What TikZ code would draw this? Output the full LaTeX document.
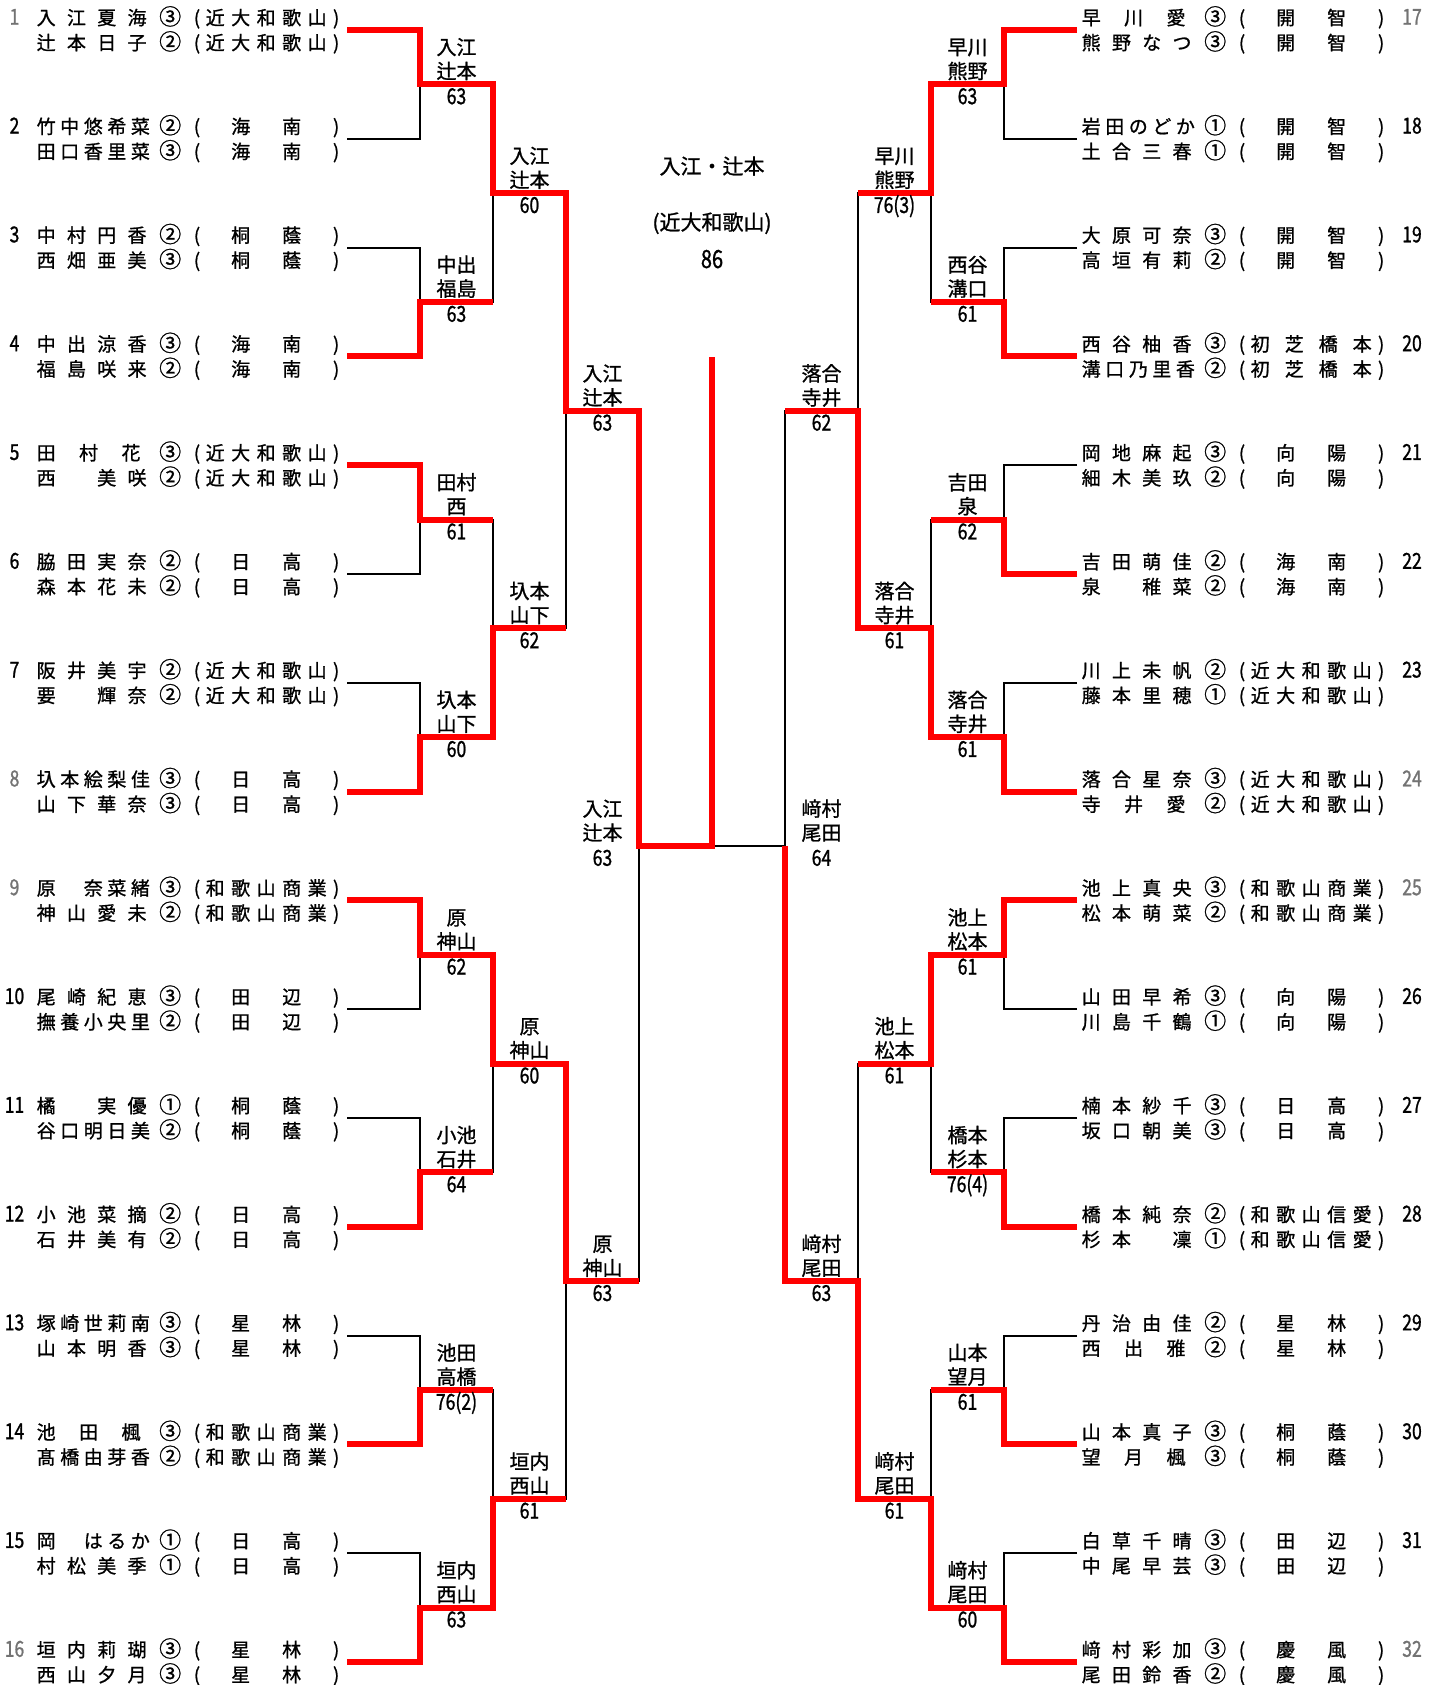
\documentclass[tikz,border=0pt]{standalone}
\usepackage{fontspec}
\setmainfont{Noto Sans CJK JP}[FakeBold=1]
\newfontfamily\numfont[FakeStretch=0.8,FakeBold=1]{Noto Sans CJK JP}
\definecolor{seedgray}{gray}{0.45}
\pgfdeclarelayer{back}
\pgfsetlayers{back,main}

\def\spreadA#1{\ifx#1\relax\else#1\expandafter\spreadB\fi}
\def\spreadB#1{\ifx#1\relax\hskip0pt plus .5fill\relax\else\hfill#1\expandafter\spreadB\fi}
\def\spreadC#1{\ifx#1\relax\else#1\expandafter\spreadD\fi}
\def\spreadD#1{\ifx#1\relax\else\hfill#1\expandafter\spreadD\fi}
\newcommand\playerline[3]{%
  \makebox[115.5pt][s]{\expandafter\spreadA#1\relax}%
  \makebox[36pt]{\fontsize{22}{24}\selectfont#2}%
  \makebox[17.5pt]{(}%
  \makebox[121pt][s]{\expandafter\spreadC#3\relax}%
  \makebox[19pt]{)}}

\tikzset{
  bk/.style={line width=2pt,black},
  rd/.style={line width=6pt,red},
  row/.style={inner sep=0pt,anchor=base west,font=\fontsize{19}{24}\selectfont},
  lab/.style={inner sep=0pt,anchor=base,font=\fontsize{20}{24}\selectfont},
  score/.style={inner sep=0pt,anchor=base,font=\numfont\fontsize{22}{24}\selectfont},
  champ/.style={inner sep=0pt,anchor=base,font=\fontsize{21}{24}\selectfont}
}

\begin{document}
\begin{tikzpicture}[x=1pt,y=-1pt]
\useasboundingbox (0,0) rectangle (1439,1685);

\foreach \ent/\col/\na/\ca/\sca/\nb/\cb/\scb in {
  1/seedgray/入江夏海/③/近大和歌山/辻本日子/②/近大和歌山,
  2/black/竹中悠希菜/②/　海　南　/田口香里菜/③/　海　南　,
  3/black/中村円香/②/　桐　蔭　/西畑亜美/③/　桐　蔭　,
  4/black/中出涼香/③/　海　南　/福島咲来/②/　海　南　,
  5/black/田村花/③/近大和歌山/西　美咲/②/近大和歌山,
  6/black/脇田実奈/②/　日　高　/森本花未/②/　日　高　,
  7/black/阪井美宇/②/近大和歌山/要　輝奈/②/近大和歌山,
  8/seedgray/圦本絵梨佳/③/　日　高　/山下華奈/③/　日　高　,
  9/seedgray/原　奈菜緒/③/和歌山商業/神山愛未/②/和歌山商業,
  10/black/尾崎紀恵/③/　田　辺　/撫養小央里/②/　田　辺　,
  11/black/橘　実優/①/　桐　蔭　/谷口明日美/②/　桐　蔭　,
  12/black/小池菜摘/②/　日　高　/石井美有/②/　日　高　,
  13/black/塚崎世莉南/③/　星　林　/山本明香/③/　星　林　,
  14/black/池田楓/③/和歌山商業/髙橋由芽香/②/和歌山商業,
  15/black/岡　はるか/①/　日　高　/村松美季/①/　日　高　,
  16/seedgray/垣内莉瑚/③/　星　林　/西山夕月/③/　星　林　}{
  \pgfmathsetmacro\m{30+108.8*(\ent-1)}
  \coordinate (L0m\ent) at (347,\m);
  \node[score,text=\col] (nl\ent) at (14.5,\m-5.25) {\ent};
  \node[row] (pl\ent a) at (36.5,\m-5.2) {\playerline\na\ca\sca};
  \node[row] (pl\ent b) at (36.5,\m+19.8) {\playerline\nb\cb\scb};
}

\foreach \ent/\col/\na/\ca/\sca/\nb/\cb/\scb in {
  1/seedgray/早川愛/③/　開　智　/熊野なつ/③/　開　智　,
  2/black/岩田のどか/①/　開　智　/土合三春/①/　開　智　,
  3/black/大原可奈/③/　開　智　/高垣有莉/②/　開　智　,
  4/black/西谷柚香/③/初芝橋本/溝口乃里香/②/初芝橋本,
  5/black/岡地麻起/③/　向　陽　/細木美玖/②/　向　陽　,
  6/black/吉田萌佳/②/　海　南　/泉　稚菜/②/　海　南　,
  7/black/川上未帆/②/近大和歌山/藤本里穂/①/近大和歌山,
  8/seedgray/落合星奈/③/近大和歌山/寺井愛/②/近大和歌山,
  9/seedgray/池上真央/③/和歌山商業/松本萌菜/②/和歌山商業,
  10/black/山田早希/③/　向　陽　/川島千鶴/①/　向　陽　,
  11/black/楠本紗千/③/　日　高　/坂口朝美/③/　日　高　,
  12/black/橋本純奈/②/和歌山信愛/杉本　凜/①/和歌山信愛,
  13/black/丹治由佳/②/　星　林　/西出雅/②/　星　林　,
  14/black/山本真子/③/　桐　蔭　/望月楓/③/　桐　蔭　,
  15/black/白草千晴/③/　田　辺　/中尾早芸/③/　田　辺　,
  16/seedgray/﨑村彩加/③/　慶　風　/尾田鈴香/②/　慶　風　}{
  \pgfmathsetmacro\m{30+108.8*(\ent-1)}
  \pgfmathtruncatemacro\num{\ent+16}
  \coordinate (R0m\ent) at (1077,\m);
  \node[score,text=\col] (nr\ent) at (1412,\m-5.25) {\num};
  \node[row] (pr\ent a) at (1081.5,\m-5.2) {\playerline\na\ca\sca};
  \node[row] (pr\ent b) at (1081.5,\m+19.8) {\playerline\nb\cb\scb};
}

\foreach \rn/\mi/\win/\na/\nb/\pts in {
  1/1/1/入江/辻本/63, 1/2/2/中出/福島/63, 1/3/1/田村/西/61, 1/4/2/圦本/山下/60,
  1/5/1/原/神山/62, 1/6/2/小池/石井/64, 1/7/2/池田/高橋/76(2), 1/8/2/垣内/西山/63,
  2/1/1/入江/辻本/60, 2/2/2/圦本/山下/62, 2/3/1/原/神山/60, 2/4/2/垣内/西山/61,
  3/1/1/入江/辻本/63, 3/2/1/原/神山/63}{
  \pgfmathtruncatemacro\pr{\rn-1}
  \pgfmathtruncatemacro\ta{2*\mi-1}
  \pgfmathtruncatemacro\tb{2*\mi}
  \pgfmathtruncatemacro\tw{2*\mi-2+\win}
  \pgfmathsetmacro\Y{30+108.8*(2^(\rn-1)*(2*\mi-1)-0.5)}
  \coordinate (L\rn m\mi) at ({347+73*\rn},\Y);
  \begin{pgfonlayer}{back}
    \draw[bk] (L\pr m\ta) -| (L\rn m\mi) (L\pr m\tb) -| (L\rn m\mi);
  \end{pgfonlayer}
  \draw[rd] (L\pr m\tw) -| (L\rn m\mi) -- ++(73,0);
  \node[lab,xshift=36.5pt,yshift=29.8pt] (al\rn m\mi) at (L\rn m\mi) {\na};
  \node[lab,xshift=36.5pt,yshift=5.8pt] (bl\rn m\mi) at (L\rn m\mi) {\nb};
  \node[score,xshift=36.5pt,yshift=-19.75pt] (sl\rn m\mi) at (L\rn m\mi) {\pts};
}

\foreach \rn/\mi/\win/\na/\nb/\pts in {
  1/1/1/早川/熊野/63, 1/2/2/西谷/溝口/61, 1/3/2/吉田/泉/62, 1/4/2/落合/寺井/61,
  1/5/1/池上/松本/61, 1/6/2/橋本/杉本/76(4), 1/7/2/山本/望月/61, 1/8/2/﨑村/尾田/60,
  2/1/1/早川/熊野/76(3), 2/2/2/落合/寺井/61, 2/3/1/池上/松本/61, 2/4/2/﨑村/尾田/61,
  3/1/2/落合/寺井/62, 3/2/2/﨑村/尾田/63}{
  \pgfmathtruncatemacro\pr{\rn-1}
  \pgfmathtruncatemacro\ta{2*\mi-1}
  \pgfmathtruncatemacro\tb{2*\mi}
  \pgfmathtruncatemacro\tw{2*\mi-2+\win}
  \pgfmathsetmacro\Y{30+108.8*(2^(\rn-1)*(2*\mi-1)-0.5)}
  \coordinate (R\rn m\mi) at ({1077-73*\rn},\Y);
  \begin{pgfonlayer}{back}
    \draw[bk] (R\pr m\ta) -| (R\rn m\mi) (R\pr m\tb) -| (R\rn m\mi);
  \end{pgfonlayer}
  \draw[rd] (R\pr m\tw) -| (R\rn m\mi) -- ++(-73,0);
  \node[lab,xshift=-36.5pt,yshift=29.8pt] (ar\rn m\mi) at (R\rn m\mi) {\na};
  \node[lab,xshift=-36.5pt,yshift=5.8pt] (br\rn m\mi) at (R\rn m\mi) {\nb};
  \node[score,xshift=-36.5pt,yshift=-19.75pt] (sr\rn m\mi) at (R\rn m\mi) {\pts};
}

\coordinate (L4m1) at (639,846);
\coordinate (R4m1) at (785,846);
\coordinate (cen) at (712,846);
\coordinate (champ) at (712,357);
\begin{pgfonlayer}{back}
  \draw[bk] (L3m1) -| (L4m1) (L3m2) -| (L4m1) (R3m1) -| (R4m1) (R3m2) -| (R4m1) (R4m1) -- (cen);
\end{pgfonlayer}
\draw[rd] (L3m1) -| (L4m1) -- (cen) -- (champ);
\draw[rd] (R3m2) -| (R4m1);

\node[lab,xshift=-36.5pt,yshift=29.8pt] (al4m1) at (L4m1) {入江};
\node[lab,xshift=-36.5pt,yshift=5.8pt] (bl4m1) at (L4m1) {辻本};
\node[score,xshift=-36.5pt,yshift=-19.75pt] (sl4m1) at (L4m1) {63};
\node[lab,xshift=36.5pt,yshift=29.8pt] (ar4m1) at (R4m1) {﨑村};
\node[lab,xshift=36.5pt,yshift=5.8pt] (br4m1) at (R4m1) {尾田};
\node[score,xshift=36.5pt,yshift=-19.75pt] (sr4m1) at (R4m1) {64};

\node[champ] (winner) at (712,174) {入江・辻本};
\node[champ] (winsch) at (712,230) {(近大和歌山)};
\node[score,font=\numfont\fontsize{25}{28}\selectfont] (final) at (712,268) {86};
\end{tikzpicture}
\end{document}
